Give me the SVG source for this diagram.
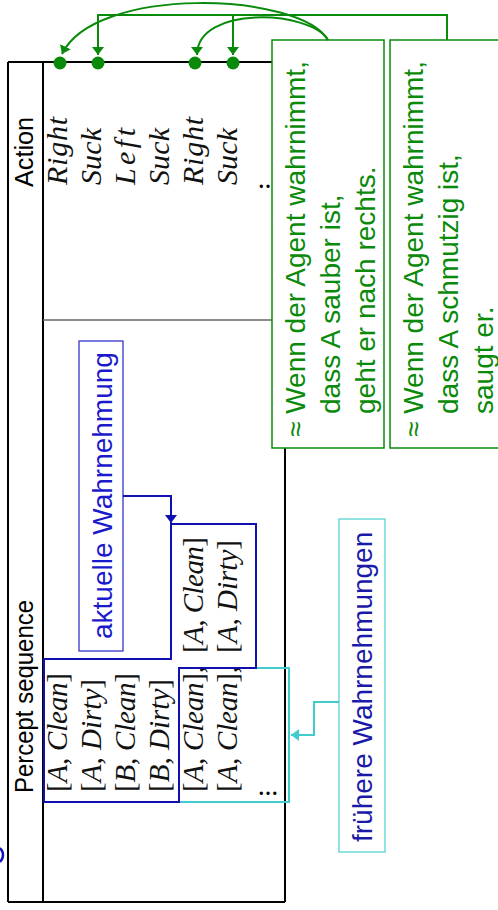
<svg xmlns="http://www.w3.org/2000/svg" width="498" height="910" viewBox="0 0 498 910">
<style>
.hdr{font-family:"Liberation Sans",Arial,sans-serif;font-size:26px;fill:#000}
.m{font-family:"Liberation Serif","Times New Roman",serif;font-size:30px;fill:#111}
.p{font-size:29px}
.i{font-style:italic}
.g{font-family:"Liberation Sans",Arial,sans-serif;font-size:28px;fill:#0a8a0a}
.lb{font-family:"Liberation Sans",Arial,sans-serif;font-size:28px}
.ln{stroke:#000;stroke-width:2;fill:none}
.gl{stroke:#0a8a0a;stroke-width:2;fill:none}
.dot{fill:#0a8a0a}
.gbox{fill:#fff;stroke:#0a8a0a;stroke-width:1.5}
.ell{font-family:"Liberation Serif",serif;font-size:20px;font-weight:bold;fill:#000}
</style>
<defs>
<marker id="ag" viewBox="0 0 8 12" refX="8" refY="6" markerWidth="8" markerHeight="12" markerUnits="userSpaceOnUse" orient="auto"><path d="M0,0 L8,6 L0,12 z" fill="#0a8a0a"/></marker>
<marker id="ab" viewBox="0 0 8 12" refX="8" refY="6" markerWidth="8" markerHeight="12" markerUnits="userSpaceOnUse" orient="auto"><path d="M0,0 L8,6 L0,12 z" fill="#1010b0"/></marker>
<marker id="ac" viewBox="0 0 8 12" refX="8" refY="6" markerWidth="8" markerHeight="12" markerUnits="userSpaceOnUse" orient="auto"><path d="M0,0 L8,6 L0,12 z" fill="#40cccc"/></marker>
</defs>

<g id="table">
<line class="ln" x1="8" y1="62" x2="8" y2="902"/>
<line class="ln" x1="8" y1="902" x2="285" y2="902"/>
<line class="ln" x1="285" y1="62" x2="285" y2="902"/>
<line class="ln" x1="8" y1="62" x2="285" y2="62" stroke-width="1.5"/>
<line class="ln" x1="43" y1="62" x2="43" y2="902"/>
<line x1="43" y1="320" x2="285" y2="320" stroke="#666" stroke-width="1.5"/>
<text class="hdr" transform="translate(33,187) rotate(-90)" textLength="70" lengthAdjust="spacingAndGlyphs">Action</text>
<text class="hdr" transform="translate(33,793) rotate(-90)" textLength="193" lengthAdjust="spacingAndGlyphs">Percept sequence</text>
</g>

<g id="actions" class="m">
<text class="i" transform="translate(67,185) rotate(-90)" textLength="68">Right</text>
<text class="i" transform="translate(101,185) rotate(-90)" textLength="57">Suck</text>
<text class="i" transform="translate(135,185) rotate(-90)" textLength="57">Left</text>
<text class="i" transform="translate(169,185) rotate(-90)" textLength="57">Suck</text>
<text class="i" transform="translate(203,185) rotate(-90)" textLength="68">Right</text>
<text class="i" transform="translate(237,185) rotate(-90)" textLength="57">Suck</text>
<text class="ell" x="258" y="188">…</text>
</g>

<g id="percepts" class="m p">
<text transform="translate(67,792) rotate(-90)" textLength="119">[<tspan class="i">A</tspan>, <tspan class="i">Clean</tspan>]</text>
<text transform="translate(101,792) rotate(-90)" textLength="113">[<tspan class="i">A</tspan>, <tspan class="i">Dirty</tspan>]</text>
<text transform="translate(135,792) rotate(-90)" textLength="119">[<tspan class="i">B</tspan>, <tspan class="i">Clean</tspan>]</text>
<text transform="translate(169,792) rotate(-90)" textLength="113">[<tspan class="i">B</tspan>, <tspan class="i">Dirty</tspan>]</text>
<text transform="translate(203,792) rotate(-90)" textLength="126">[<tspan class="i">A</tspan>, <tspan class="i">Clean</tspan>],</text>
<text transform="translate(237,792) rotate(-90)" textLength="126">[<tspan class="i">A</tspan>, <tspan class="i">Clean</tspan>],</text>
<text transform="translate(203,653) rotate(-90)" textLength="116">[<tspan class="i">A</tspan>, <tspan class="i">Clean</tspan>]</text>
<text transform="translate(237,653) rotate(-90)" textLength="113">[<tspan class="i">A</tspan>, <tspan class="i">Dirty</tspan>]</text>
<text class="ell" x="258" y="795">…</text>
</g>

<g id="frame-earlier">
<rect x="179" y="668" width="110" height="134" fill="none" stroke="#40cccc" stroke-width="2"/>
</g>
<g id="frame-current">
<polygon points="44,659 171,659 171,524 256,524 256,668 179,668 179,802 44,802" fill="none" stroke="#1010b0" stroke-width="2"/>
</g>

<g id="label-current">
<rect x="79" y="341" width="44" height="310" fill="#fff" stroke="#2424c8" stroke-width="1.2"/>
<text class="lb" fill="#1a1acc" transform="translate(112,639) rotate(-90)">aktuelle Wahrnehmung</text>
</g>

<g id="label-earlier">
<rect x="339" y="519" width="46" height="333" fill="#fff" stroke="#48d0d0" stroke-width="1.2"/>
<text class="lb" fill="#1a1aa8" transform="translate(372,842) rotate(-90)">frühere Wahrnehmungen</text>
</g>

<g id="rule1">
<rect class="gbox" x="272" y="40" width="112" height="408"/>
<text class="g" transform="translate(305,437) rotate(-90)">≈ Wenn der Agent wahrnimmt,</text>
<text class="g" transform="translate(340,414) rotate(-90)">dass A sauber ist,</text>
<text class="g" transform="translate(375,414) rotate(-90)">geht er nach rechts.</text>
</g>

<g id="rule2">
<rect class="gbox" x="390" y="40" width="120" height="408"/>
<text class="g" transform="translate(423,437) rotate(-90)">≈ Wenn der Agent wahrnimmt,</text>
<text class="g" transform="translate(458,414) rotate(-90)">dass A schmutzig ist,</text>
<text class="g" transform="translate(493,414) rotate(-90)">saugt er.</text>
</g>

<g id="connectors">
<path class="gl" d="M328,40 C300,-8 95,-15 62,54" marker-end="url(#ag)"/>
<path class="gl" d="M328,40 C310,10 197,5 197,55" marker-end="url(#ag)"/>
<path class="gl" d="M447,40 V15 H98 V55" marker-end="url(#ag)"/>
<path class="gl" d="M233,15 V55" marker-end="url(#ag)"/>
<path d="M123,496 H171 V523" fill="none" stroke="#1010b0" stroke-width="2" marker-end="url(#ab)"/>
<path d="M339,702 H314 V735 H291" fill="none" stroke="#40cccc" stroke-width="2" marker-end="url(#ac)"/>
<circle class="dot" cx="60" cy="63" r="6.5"/>
<circle class="dot" cx="98" cy="63" r="6.5"/>
<circle class="dot" cx="195" cy="63" r="6.5"/>
<circle class="dot" cx="233" cy="63" r="6.5"/>
</g>

<g id="edge-mark">
<ellipse cx="-2" cy="855" rx="5" ry="7" fill="none" stroke="#1010c0" stroke-width="2.5"/>
</g>
</svg>
